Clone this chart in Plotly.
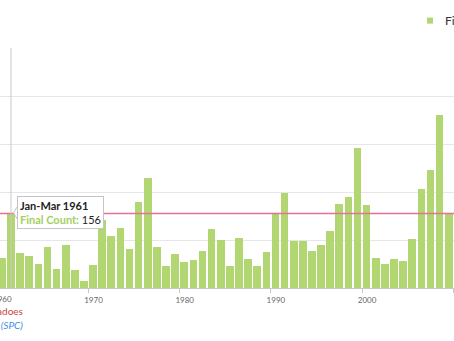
import plotly.graph_objects as go

# Jan-Mar final tornado counts by year
years = list(range(1960, 2011))
final_count = [
    62, 156, 72, 66, 51, 86, 39, 89, 38, 15,
    48, 141, 108, 124, 82, 179, 230, 85, 46, 71,
    55, 59, 78, 123, 101, 46, 104, 61, 45, 74,
    155, 197, 97, 97, 78, 90, 119, 174, 189, 291,
    172, 63, 49, 60, 57, 103, 206, 246, 360, 155,
    62,
]
average_count = 155
tick_years = [1960, 1970, 1980, 1990, 2000, 2010]

W, H = 454, 341
M_T, M_B = 47.7, 53.3
PLOT_H = H - M_T - M_B
PX_PER_YEAR = 9.12
X0 = 1960 + 2.7 / PX_PER_YEAR
X1 = X0 + W / PX_PER_YEAR

BAR = "#b2d772"
GREEN_TXT = "#a3d062"
FONT = "Lato, 'Source Sans Pro', 'Open Sans', sans-serif"


def px_x(px):
    return px / W


def px_y(py):
    return (H - M_B - py) / PLOT_H


fig = go.Figure()
fig.add_trace(go.Bar(
    x=[y + 0.5 for y in years],
    y=final_count,
    width=0.84,
    marker=dict(color=BAR, line=dict(width=0)),
    name="Final Count",
    showlegend=False,
))

shapes = [
    # average line
    dict(type="line", xref="paper", x0=0, x1=1, yref="y", y0=average_count, y1=average_count,
         line=dict(color="#e86f98", width=1.5), layer="above"),
    # hover crosshair on 1961
    dict(type="line", xref="x", x0=1961.5, x1=1961.5, yref="paper", y0=0, y1=1,
         line=dict(color="#c8c8c8", width=1), layer="above"),
    # tooltip pointer
    dict(type="path", xref="paper", yref="paper",
         path=f"M {px_x(17.5)},{px_y(206)} L {px_x(13.5)},{px_y(212.5)} L {px_x(17.5)},{px_y(219)} Z",
         fillcolor="white", line=dict(color="#c4c4c4", width=1), layer="above"),
    # legend swatch
    dict(type="rect", xref="paper", yref="paper",
         x0=px_x(427), x1=px_x(433), y0=px_y(23.3), y1=px_y(17.3),
         fillcolor=BAR, line=dict(width=0)),
]

tick_labels = [str(t) for t in tick_years]

annotations = [
    # tick label for 1960 (centre falls just left of the plotting window)
    dict(xref="paper", yref="paper", x=px_x(2.3), y=px_y(298.5), text=tick_labels[0],
         showarrow=False, xanchor="center", yanchor="middle",
         font=dict(family=FONT, size=8, color="#666666")),
    # tooltip
    dict(xref="paper", yref="paper", x=px_x(16.7), y=px_y(212), xanchor="left", yanchor="middle",
         text=(f"<b>Jan-Mar {years[1]}</b><br>"
               f"<span style='color:{GREEN_TXT}'><b>Final Count:</b></span> {final_count[1]}"),
         showarrow=False, align="left", bgcolor="white", bordercolor="#c4c4c4",
         borderwidth=1, borderpad=2,
         font=dict(family=FONT, size=11, color="#222222")),
    # legend label
    dict(xref="paper", yref="paper", x=px_x(443), y=px_y(20.3), text="Final Count",
         showarrow=False, xanchor="left", yanchor="middle",
         font=dict(family=FONT, size=12, color="#333333")),
    # footer notes
    dict(xref="paper", yref="paper", x=px_x(24.5), y=px_y(310.5), text="Average Number of Tornadoes",
         showarrow=False, xanchor="right", yanchor="middle",
         font=dict(family=FONT, size=10, color="#c9453d")),
    dict(xref="paper", yref="paper", x=px_x(24.5), y=px_y(324.5),
         text="Source: NOAA Storm Prediction Center <i>(SPC)</i>",
         showarrow=False, xanchor="right", yanchor="middle",
         font=dict(family=FONT, size=10, color="#3a8ee0")),
]

fig.update_layout(
    width=W, height=H,
    margin=dict(l=0, r=0, t=M_T, b=M_B, pad=0),
    paper_bgcolor="white", plot_bgcolor="white",
    showlegend=False,
    shapes=shapes,
    annotations=annotations,
    font=dict(family=FONT),
    xaxis=dict(
        range=[X0, X1], tickvals=tick_years, ticktext=tick_labels,
        showgrid=False, zeroline=False,
        showline=True, linecolor="#c8c8c8", linewidth=1,
        ticks="outside", ticklen=4, tickcolor="#c8c8c8",
        tickfont=dict(family=FONT, size=8, color="#666666"),
        ticklabelshift=5,
    ),
    yaxis=dict(
        range=[0, 500], dtick=100, showticklabels=False,
        showgrid=True, gridcolor="#e6e6e6", gridwidth=1,
        zeroline=False, showline=False, ticks="",
    ),
    bargap=0,
)

fig.write_html("out.html")
